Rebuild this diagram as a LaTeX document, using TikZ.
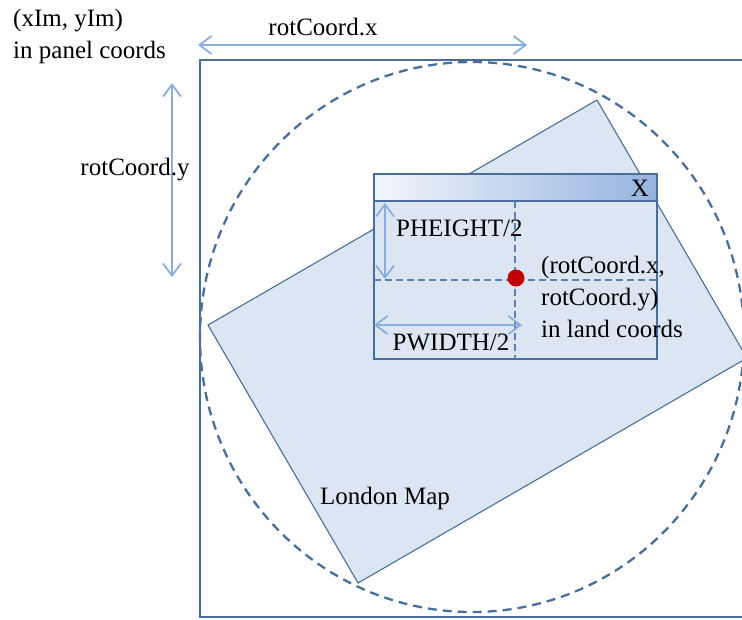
\documentclass[tikz,border=0pt]{standalone}
\usepackage{fontspec}
\setmainfont{Liberation Serif}
\usetikzlibrary{arrows.meta}
\definecolor{edge}{HTML}{4A6E9C}
\definecolor{mapfill}{HTML}{DCE6F2}
\definecolor{arrowblue}{HTML}{8AAEDC}
\definecolor{guideblue}{HTML}{5A82B6}
\definecolor{barR}{HTML}{95B3E0}
\definecolor{barL}{HTML}{F2F5FB}
\definecolor{dotred}{HTML}{C00000}

\begin{document}
\begin{tikzpicture}[x=1pt,y=-1pt,
  lbl/.style={font=\fontsize{25}{32}\selectfont, inner sep=0pt},
  openbarb/.tip={Straight Barb[length=12pt,width=18pt,line width=1.8pt]},
  dimarrow/.style={draw=arrowblue, line width=1.8pt, {openbarb}-{openbarb}},
  guide/.style={draw=guideblue, dash pattern=on 7pt off 4pt, line width=1.2pt},
]
\useasboundingbox (0,0) rectangle (742,619);
\clip (0,0) rectangle (742,619);

% panel frame (right side runs off the page)
\coordinate (pTL) at (200,60);
\coordinate (pBL) at (200,617);
\draw[edge, line width=1.5pt] (760,60) -- (pTL) -- (pBL) -- (760,617);

% rotated London map
\coordinate (mL) at (208,325);
\coordinate (mT) at (597,100);
\coordinate (mR) at (747,358);
\coordinate (mB) at (358,583);
\filldraw[fill=mapfill, draw=edge, line width=1.1pt] (mL) -- (mT) -- (mR) -- (mB) -- cycle;
\node[lbl] (maplabel) at (385,498) {London Map};

% circle swept by the rotating map
\draw[edge, dash pattern=on 9pt off 6pt, line width=2.3pt]
  (472,337) ellipse [x radius=272, y radius=275];

% viewing window
\coordinate (wTL) at (374,174);
\coordinate (wBR) at (657,359);
\fill[mapfill] (wTL) rectangle (wBR);
\shade[left color=barL, right color=barR] (374,174) rectangle (657,201);
\draw[edge, line width=1.2pt] (wTL) rectangle (wBR);
\draw[edge, line width=1.2pt] (374,201) -- (657,201);
\node[lbl] (close) at (640,188) {X};

% centre guides
\coordinate (gvT) at (515,201);
\coordinate (gvB) at (515,359);
\coordinate (ghL) at (374,280);
\coordinate (ghR) at (657,280);
\draw[guide] (gvT) -- (gvB);
\draw[guide] (ghL) -- (ghR);

% half-size dimensions
\coordinate (phT) at (385,203);
\coordinate (phB) at (385,279);
\draw[dimarrow] (phT) -- (phB);
\node[lbl, anchor=west] (phlabel) at (396,228) {PHEIGHT/2};
\coordinate (pwL) at (374,325);
\coordinate (pwR) at (522,325);
\draw[dimarrow] (pwL) -- (pwR);
\node[lbl] (pwlabel) at (451,342) {PWIDTH/2};

% centre point
\fill[dotred] (516,278) circle (8.5);
\node[lbl, anchor=north west, align=left] (centrelabel) at (541,256)
  {(rotCoord.x,\\rotCoord.y)\\in land coords};

% panel offsets
\coordinate (rxL) at (198,45);
\coordinate (rxR) at (527,45);
\draw[dimarrow] (rxL) -- (rxR);
\node[lbl] (rxlabel) at (323,27) {rotCoord.x};
\coordinate (ryT) at (172,83);
\coordinate (ryB) at (172,277);
\draw[dimarrow] (ryT) -- (ryB);
\node[lbl] (rylabel) at (135,170) {rotCoord.y};

\node[lbl, anchor=north west, align=left] (originlabel) at (13,9)
  {(xIm, yIm)\\in panel coords};
\end{tikzpicture}
\end{document}
